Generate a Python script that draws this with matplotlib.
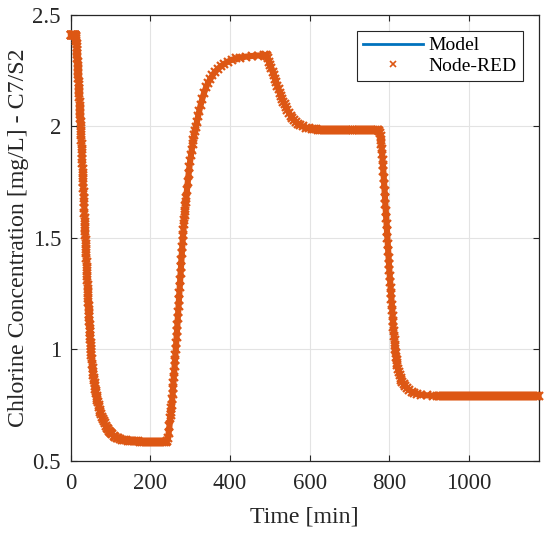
import matplotlib
matplotlib.use("Agg")
import matplotlib.pyplot as plt
from matplotlib.lines import Line2D

# ---- data (time in min, chlorine in mg/L) ----
t_start = [0, 1, 2, 3, 4, 5, 6, 7, 8, 9, 10, 11, 12]
c_start = [2.41, 2.41, 2.41, 2.41, 2.41, 2.41, 2.41, 2.41, 2.41, 2.41, 2.41, 2.41, 2.41]

t_drop1 = [13, 13.5, 14, 14.5, 15, 15.5, 16, 16.5, 17, 17.5, 18, 18.5, 19, 19.5,
           20, 20.5, 21, 21.5, 22, 22.5, 23, 23.5, 24, 24.5, 25, 25.5, 26, 26.5,
           27, 27.5, 28, 28.5, 29, 29.5, 30, 30.5, 31, 31.5, 32, 32.5, 33, 33.5,
           34, 34.5, 35, 35.5, 36, 36.5, 37, 37.5, 38, 38.5, 39, 39.5, 40, 40.5,
           41, 41.5, 42, 42.5, 43, 43.5, 44, 44.5, 45, 45.5, 46, 46.5, 47, 47.5,
           48, 48.5, 49, 49.5, 50, 50.5, 51, 51.5, 52]
c_drop1 = [2.405, 2.40, 2.39, 2.38, 2.37, 2.355, 2.34, 2.323, 2.305, 2.288, 2.27, 2.253, 2.235, 2.218,
           2.20, 2.183, 2.165, 2.148, 2.13, 2.11, 2.09, 2.073, 2.055, 2.038, 2.02, 2.0, 1.98, 1.96,
           1.94, 1.92, 1.90, 1.878, 1.855, 1.833, 1.81, 1.79, 1.77, 1.748, 1.725, 1.703, 1.68, 1.658,
           1.635, 1.613, 1.59, 1.57, 1.55, 1.53, 1.51, 1.49, 1.47, 1.45, 1.43, 1.41, 1.39, 1.37,
           1.35, 1.33, 1.31, 1.29, 1.27, 1.25, 1.23, 1.213, 1.195, 1.178, 1.16, 1.143, 1.125, 1.108,
           1.09, 1.075, 1.06, 1.045, 1.03, 1.015, 1.0, 0.988, 0.975]

t_low = [53, 54, 55, 56, 57, 58, 59, 60, 61, 62, 63, 64, 65, 66, 67, 68.5, 70, 71.5, 73, 74.5,
         76, 78, 80, 82.5, 85, 87.5, 90, 92.5, 95, 97.5, 100, 104, 108, 112, 116, 120, 125,
         130, 135, 140, 145, 150, 155, 160, 165, 170, 175, 180, 185, 190, 195, 200, 205,
         210, 215, 220, 225, 230, 235, 240]
c_low = [0.955, 0.935, 0.915, 0.90, 0.885, 0.872, 0.86, 0.847, 0.835, 0.823, 0.812, 0.802, 0.792,
         0.783, 0.774, 0.763, 0.752, 0.739, 0.727, 0.717, 0.708, 0.698, 0.688, 0.677, 0.667, 0.657,
         0.648, 0.641, 0.635, 0.63, 0.625, 0.618, 0.612, 0.607, 0.604, 0.601, 0.598, 0.595, 0.593,
         0.591, 0.59, 0.589, 0.588, 0.588, 0.587, 0.587, 0.586, 0.586, 0.586, 0.586, 0.586, 0.586,
         0.586, 0.586, 0.586, 0.586, 0.586, 0.586, 0.586, 0.586]

t_rise = [242, 244, 246, 248, 250, 251, 252, 253, 254, 255, 256, 257, 258, 259, 260, 261, 262,
          263, 264, 265, 266, 267, 268, 269, 270, 271, 272, 273, 274, 275, 276, 277, 278, 279,
          280, 281, 282, 283, 284, 285, 286, 287, 288, 289, 290, 292, 294, 296, 298, 300, 302,
          304, 306, 308, 310, 312, 314, 317, 320, 323, 326, 330, 335, 340, 345, 350, 356, 362,
          370, 378, 386, 395, 405, 415, 425, 440, 455, 470, 485, 490]
c_rise = [0.59, 0.60, 0.625, 0.655, 0.69, 0.705, 0.72, 0.735, 0.75, 0.775, 0.80, 0.825, 0.85,
          0.875, 0.90, 0.925, 0.95, 0.975, 1.0, 1.028, 1.055, 1.083, 1.11, 1.138, 1.165, 1.193,
          1.22, 1.25, 1.28, 1.31, 1.34, 1.37, 1.40, 1.43, 1.46, 1.485, 1.51, 1.535, 1.56, 1.58,
          1.60, 1.62, 1.64, 1.66, 1.68, 1.715, 1.75, 1.785, 1.815, 1.845, 1.87, 1.895, 1.92, 1.94,
          1.96, 1.978, 1.995, 2.02, 2.045, 2.07, 2.093, 2.12, 2.15, 2.175, 2.195, 2.21, 2.228,
          2.243, 2.258, 2.27, 2.28, 2.29, 2.298, 2.304, 2.308, 2.312, 2.315, 2.317, 2.318, 2.318]

t_decay = [492, 495, 498, 501, 504, 507, 510, 513, 516, 519, 522, 525, 528, 531, 534, 537, 540,
           544, 548, 552, 556, 560, 565, 570, 576, 582, 590, 598, 605, 610, 615, 620, 625, 630,
           635, 640, 645, 650, 655, 660, 665, 670, 675, 680, 685, 690, 695, 700, 705, 710, 715,
           720, 725, 730, 735, 740, 745, 750, 755, 760, 765, 770]
c_decay = [2.315, 2.305, 2.29, 2.275, 2.26, 2.245, 2.23, 2.213, 2.197, 2.18, 2.165, 2.15, 2.137,
           2.123, 2.11, 2.098, 2.087, 2.073, 2.06, 2.048, 2.038, 2.03, 2.02, 2.012, 2.005, 1.999,
           1.993, 1.99, 1.988, 1.986, 1.986, 1.985, 1.984, 1.983, 1.983, 1.983, 1.983, 1.982, 1.982,
           1.982, 1.982, 1.982, 1.982, 1.982, 1.982, 1.982, 1.982, 1.982, 1.982, 1.982, 1.982,
           1.982, 1.982, 1.982, 1.982, 1.982, 1.982, 1.982, 1.982, 1.982, 1.982, 1.982]

t_drop3 = [772, 774, 776, 778, 779, 780, 781, 782, 783, 784, 785, 786, 787, 788, 789, 790, 791,
           792, 793, 794, 795, 796, 797, 798, 799, 800, 801, 802, 803, 804, 805, 806, 807, 808,
           809, 810, 811, 812, 813, 814, 815, 816, 817, 818, 819, 820, 822, 824, 826, 828, 830,
           833, 836, 840, 845, 850, 856, 863, 870, 880, 895, 910, 920]
c_drop3 = [1.982, 1.978, 1.97, 1.955, 1.94, 1.92, 1.90, 1.875, 1.85, 1.825, 1.80, 1.77, 1.74,
           1.71, 1.68, 1.65, 1.62, 1.59, 1.56, 1.53, 1.50, 1.47, 1.44, 1.41, 1.38, 1.355, 1.33,
           1.30, 1.275, 1.25, 1.225, 1.20, 1.175, 1.15, 1.125, 1.10, 1.08, 1.06, 1.04, 1.02, 1.0,
           0.983, 0.967, 0.953, 0.94, 0.93, 0.912, 0.897, 0.884, 0.873, 0.864, 0.853, 0.844, 0.834,
           0.825, 0.817, 0.81, 0.804, 0.80, 0.796, 0.793, 0.791, 0.79]

t_end = [925, 930, 935, 940, 945, 950, 955, 960, 965, 970, 975, 980, 985, 990, 995, 1000,
         1005, 1010, 1015, 1020, 1025, 1030, 1035, 1040, 1045, 1050, 1055, 1060, 1065, 1070,
         1075, 1080, 1085, 1090, 1095, 1100, 1105, 1110, 1115, 1120, 1125, 1130, 1135, 1140,
         1145, 1150, 1155, 1160, 1165, 1170, 1175]
c_end = [0.79, 0.79, 0.79, 0.79, 0.79, 0.79, 0.79, 0.79, 0.79, 0.79, 0.79, 0.79, 0.79, 0.79,
         0.79, 0.79, 0.79, 0.79, 0.79, 0.79, 0.79, 0.79, 0.79, 0.79, 0.79, 0.79, 0.79, 0.79,
         0.79, 0.79, 0.79, 0.79, 0.79, 0.79, 0.79, 0.79, 0.79, 0.79, 0.79, 0.79, 0.79, 0.79,
         0.79, 0.79, 0.79, 0.79, 0.79, 0.79, 0.79, 0.79, 0.79]

time_min = t_start + t_drop1 + t_low + t_rise + t_decay + t_drop3 + t_end
model_mgL = c_start + c_drop1 + c_low + c_rise + c_decay + c_drop3 + c_end
nodered_mgL = list(model_mgL)

x_ticks = [0, 200, 400, 600, 800, 1000]
y_ticks = [0.5, 1, 1.5, 2, 2.5]
y_tick_labels = ["0.5", "1", "1.5", "2", "2.5"]

BLUE = '#0072BD'
ORANGE = '#DD5714'

# ---- figure ----
plt.rcParams['font.family'] = ['Liberation Serif', 'DejaVu Serif']
fig = plt.figure(figsize=(5.5, 5.33), dpi=100)
ax = fig.add_axes([0.1285, 0.1356, 0.851, 0.8368])

ax.plot(time_min, model_mgL, color=BLUE, lw=2.0, zorder=2)
# dense Node-RED samples appear as a continuous band of 'x' markers
ax.plot(time_min, nodered_mgL, ls='-', lw=4.4, color=ORANGE,
        solid_joinstyle='round', solid_capstyle='round',
        marker='x', ms=5.8, mew=1.6, zorder=3, clip_on=False)

ax.set_xlim(0, 1175)
ax.set_ylim(0.5, 2.5)
ax.set_xticks(x_ticks)
ax.set_yticks(y_ticks)
ax.set_yticklabels(y_tick_labels)
ax.grid(True, color='#e3e3e3', lw=0.8)
ax.set_axisbelow(True)
ax.tick_params(direction='in', top=True, right=True, length=4, width=0.8,
               colors='#262626', labelsize=16.5, pad=7)
ax.tick_params(axis='x', pad=8.5)
for s in ax.spines.values():
    s.set_color('#262626')
    s.set_linewidth(0.9)

ax.set_xlabel('Time [min]', fontsize=17.2, color='#262626', labelpad=9)
ax.set_ylabel('Chlorine Concentration [mg/L] - C7/S2', fontsize=17.2,
              color='#262626', labelpad=2.5)

handles = [Line2D([], [], color=BLUE, lw=2.0),
           Line2D([], [], ls='none', marker='x', ms=4.5, mew=1.2, color=ORANGE)]
leg = ax.legend(handles, ['Model', 'Node-RED'], loc='upper right',
                bbox_to_anchor=(0.9658, 0.9635), borderaxespad=0,
                fontsize=14, handlelength=3.1, handletextpad=0.3, labelspacing=0.15,
                fancybox=False, framealpha=1, edgecolor='#262626', borderpad=0.3)
leg.get_frame().set_linewidth(0.8)

fig.savefig('out.png', dpi=100)
